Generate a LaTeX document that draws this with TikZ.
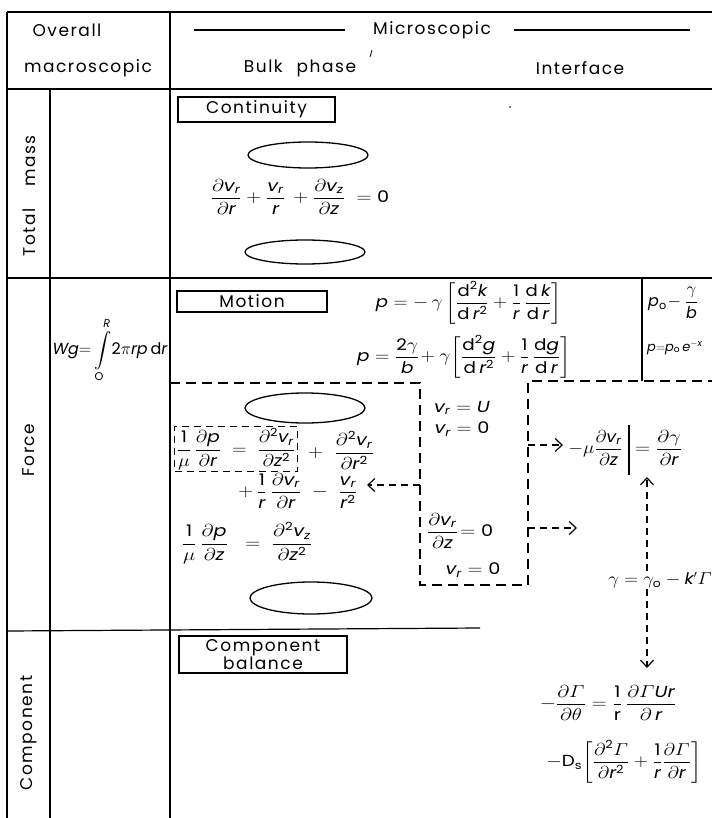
\documentclass[tikz,border=0pt]{standalone}
\usepackage{amsmath}
\usepackage{graphicx}
\usepackage{mathspec}
\setmainfont{Poppins}[LetterSpace=9]
\setmathsfont(Digits,Latin){Poppins}
\setmathrm{Poppins}
\usetikzlibrary{arrows.meta,shapes.geometric}
\newcommand{\wdeq}[2][1.2]{\scalebox{#1}[1]{#2}}
\tikzset{
  txt/.style={font=\fontsize{17}{18}\selectfont, inner sep=1pt},
  eq/.style={font=\fontsize{16}{19}\selectfont, inner sep=1pt},
  bx/.style={draw, line width=1.3pt, inner sep=1pt, font=\fontsize{17}{16}\selectfont},
  oval/.style={draw, ellipse, line width=1.3pt, inner sep=0pt},
  rule/.style={line width=1.2pt},
  dsh/.style={line width=1.2pt, dash pattern=on 10pt off 6pt},
  dshs/.style={line width=1.2pt, dash pattern=on 7pt off 5pt},
  arr/.style={-{Straight Barb[length=7pt,width=13pt,line width=1.2pt]}},
}
\begin{document}
\begin{tikzpicture}[x=1pt,y=-1pt]
\useasboundingbox (0,0) rectangle (712,818);
% table rules
\draw[rule] (7,12) -- (712,12);
\draw[rule] (7,89) -- (712,89);
\draw[rule] (7,12) -- (7,818);
\draw[rule] (170,12) -- (170,818);
\draw[rule] (50,89) -- (50,818);
\draw[rule] (7,278) -- (712,278);
\draw[rule] (7,631) -- (480,628);
\draw[rule] (642,278) -- (642,381);
\draw[dsh] (170,383) -- (420,383) -- (420,585) -- (528,585) -- (528,381) -- (712,381);
% header
\node[txt] (ov) at (67,30) {Overall};
\node[txt] (mac) at (88,68) {macroscopic};
\node[txt] (mic) at (432,30) {Microscopic};
\draw[rule] (194,30) -- (345,30);
\draw[rule] (514,30) -- (690,30);
\draw[line width=0.8pt] (372,50) -- (370,57);
\node[txt] (bulk) at (300,68) {Bulk\hspace{14pt}phase};
\node[txt] (intf) at (580,68) {Interface};
% row labels
\node[txt, rotate=90] (tm) at (29,196) {Total\hspace{22pt}mass};
\node[txt, rotate=90] (fo) at (29,450) {Force};
\node[txt, rotate=90] (co) at (29,733) {Component};
% total mass row
\node[bx, minimum width=157pt, minimum height=25pt] (cont) at (256.5,109.5) {Continuity};
\fill (510,107) circle (0.9pt);
\node[oval, minimum width=120pt, minimum height=26pt] (e1) at (308,155) {};
\node[eq] (conteq) at (300,197) {\wdeq{$\dfrac{\partial v_r}{\partial r}+\dfrac{v_r}{r}\,+\dfrac{\partial v_z}{\partial z}\;=0$}};
\node[oval, minimum width=120pt, minimum height=24pt] (e2) at (305,252) {};
% force row
\node[eq] (wg) at (110,350) {$Wg{=}\displaystyle\int\limits_{\mathrm{O}}^{R}\!2\pi rp\,\mathrm{d}r$};
\node[bx, minimum width=150pt, minimum height=21pt] (mot) at (252,301.5) {Motion};
\node[eq] (pk) at (469,303) {\wdeq[1.13]{$p=-\,\gamma\left[\dfrac{\mathrm{d}^2k}{\mathrm{d}\,r^2}+\dfrac1r\,\dfrac{\mathrm{d}\,k}{\mathrm{d}\,r}\right]$}};
\node[eq] (pg) at (464,357) {\wdeq[1.15]{$p=\dfrac{2\gamma}{b}\!+\gamma\!\left[\dfrac{\mathrm{d}^2g}{\mathrm{d}\,r^2}+\dfrac1r\,\dfrac{\mathrm{d}g}{\mathrm{d}\,r}\right]$}};
\node[eq, anchor=west] (po1) at (647,303) {$p_{\mathrm{o}}\!-\dfrac{\gamma}{b}$};
\node[eq, anchor=west, font=\fontsize{13}{15}\selectfont] (po2) at (646,348) {$p{=}p_{\mathrm{o}}\,e^{-x}$};
\node[oval, minimum width=120pt, minimum height=30pt] (e3) at (305,408) {};
\node[eq, draw, dshs, inner sep=2pt] (m1) at (236,449) {\wdeq[1.15]{$\dfrac1\mu\,\dfrac{\partial p}{\partial r}\;=\;\dfrac{\partial^2 v_r}{\partial z^2}$}};
\node[eq] (m2) at (341,450) {\wdeq{$+\;\;\dfrac{\partial^2 v_r}{\partial r^2}$}};
\node[eq] (m3) at (298,491) {\wdeq{$+\,\dfrac1r\,\dfrac{\partial v_r}{\partial r}\;-\;\dfrac{v_r}{r^2}$}};
\node[eq] (m4) at (247,543) {\wdeq{$\dfrac1\mu\,\dfrac{\partial p}{\partial z}\;\;=\;\dfrac{\partial^2 v_z}{\partial z^2}$}};
\node[oval, minimum width=122pt, minimum height=32pt] (e4) at (311,598) {};
\node[eq] (bc1a) at (462,408) {\wdeq{$v_r=U$}};
\node[eq] (bc1b) at (462,429) {\wdeq{$v_r=0$}};
\node[eq] (bc2) at (460,531) {\wdeq{$\dfrac{\partial v_r}{\partial z}\!=0$}};
\node[eq] (bc3) at (473,570) {\wdeq{$v_r=0$}};
\node[eq, anchor=east] (sh1) at (624,448) {\wdeq[1.1]{$-\mu\dfrac{\partial v_r}{\partial z}$}};
\draw[rule] (629,425) -- (629,475);
\node[eq, anchor=west] (sh2) at (634,448) {\wdeq{$=\dfrac{\partial\gamma}{\partial r}$}};
\node[eq] (gam) at (660,580) {\wdeq[1.1]{$\gamma=\gamma_{\mathrm{o}}-k'\varGamma$}};
% component row
\node[bx, minimum width=168pt, minimum height=37pt, align=center] (comp) at (263,654.5) {Component\\balance};
\node[eq] (cb1) at (608,703) {\wdeq{$-\dfrac{\partial\varGamma}{\partial\theta}=\dfrac{1}{\mathrm{r}}\,\dfrac{\partial\varGamma U r}{\partial\,r}$}};
\node[eq] (cb2) at (624,762) {\wdeq[1.15]{$-\mathrm{D}_{\mathrm{s}}\!\left[\dfrac{\partial^2\varGamma}{\partial r^2}+\dfrac1r\dfrac{\partial\varGamma}{\partial r}\right]$}};
% arrows
\coordinate (l1) at (420,485); \coordinate (l2) at (367,485);
\draw[dshs, arr] (l1) -- (l2);
\coordinate (r1s) at (528,445); \coordinate (r1e) at (563,445);
\draw[dshs, arr] (r1s) -- (r1e);
\coordinate (r2s) at (528,528); \coordinate (r2e) at (577,528);
\draw[dshs, arr] (r2s) -- (r2e);
\coordinate (u2) at (647,477);
\draw[dshs, arr] (gam.north -| u2) -- (u2);
\coordinate (d2) at (647,668);
\draw[dshs, arr] (gam.south -| d2) -- (d2);
\end{tikzpicture}
\end{document}
